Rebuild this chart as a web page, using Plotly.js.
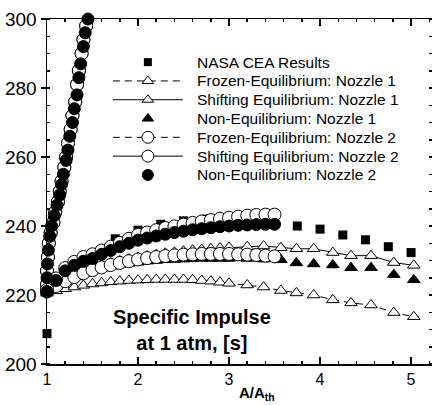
<!DOCTYPE html>
<html>
<head>
<meta charset="utf-8">
<script src="https://cdn.plot.ly/plotly-3.0.1.min.js"></script>
<style>html,body{margin:0;padding:0;background:#fff;}#chart{width:432px;height:405px;}</style>
</head>
<body>
<div id="chart"></div>
<script>
// ---------- data ----------
const seriesNames = [
  'NASA CEA Results',
  'Frozen-Equilibrium: Nozzle 1',
  'Shifting Equilibrium: Nozzle 1',
  'Non-Equilibrium: Nozzle 1',
  'Frozen-Equilibrium: Nozzle 2',
  'Shifting Equilibrium: Nozzle 2',
  'Non-Equilibrium: Nozzle 2'
];

const nasaX = [1.0, 1.25, 1.5, 1.75, 2.0, 2.25, 2.5, 2.75, 3.0, 3.25, 3.5, 3.75, 4.0, 4.25, 4.5, 4.75, 5.0];
const nasaY = [208.8, 227.5, 232.0, 236.3, 238.8, 240.5, 241.5, 242.0, 242.2, 242.0, 241.2, 240.0, 239.1, 237.4, 236.0, 234.0, 232.3];

const nozzle1X = [1.0,1.1,1.2,1.3,1.4,1.5,1.6,1.7,1.8,1.9,2.0,2.1,2.2,2.3,2.4,2.5,2.6,2.7,2.8,2.9,3.0,3.2,3.38,3.57,3.74,3.93,4.14,4.34,4.56,4.81,5.03];
const frozenN1Y = [220.5,221.2,221.8,222.3,222.8,223.2,223.5,223.8,224.0,224.2,224.3,224.4,224.5,224.5,224.5,224.5,224.4,224.2,224.0,223.7,223.4,222.9,222.3,221.3,220.6,220.0,218.6,217.7,217.1,214.9,213.7];
const shiftN1Y  = [221.0,222.6,224.2,225.6,226.8,227.8,228.6,229.3,229.9,230.4,230.9,231.3,231.7,232.1,232.4,232.7,233.0,233.2,233.4,233.6,233.8,234.0,234.2,233.7,233.4,233.4,232.3,231.4,231.4,229.4,228.6];
const nonEqN1Y  = [221.0,222.5,224.0,225.2,226.2,227.0,227.7,228.3,228.8,229.2,229.5,229.8,230.0,230.2,230.3,230.4,230.5,230.6,230.6,230.6,230.6,230.6,230.4,230.2,229.3,229.0,228.7,227.9,227.9,225.9,224.4];

// converging (steep) branch of nozzle 2
const n2SteepX = [1.45,1.42,1.40,1.37,1.35,1.33,1.30,1.28,1.25,1.23,1.21,1.18,1.16,1.14,1.11,1.08,1.05,1.03,1.015,1.005,1.0];
const n2SteepY = [300,296,292,287,283,278,274,270,266,262,259,255,252,249,246,243,240,237,233,229,225];
const n2OpenSteepX = [1.43,1.40,1.38,1.35,1.33,1.31,1.28,1.26,1.23,1.21,1.19,1.16,1.14,1.12,1.09,1.07,1.04,1.02,1.01,1.0,1.0];
const n2OpenSteepY = [298,294,290,285,281,276,272,268,264,260,257,253,250,247,244,241,238,235,231,227,223];

// diverging branch of nozzle 2
const n2RiseX = [1.0,1.1,1.2,1.3,1.4,1.5,1.6,1.7,1.8,1.9,2.0,2.1,2.2,2.3,2.4,2.5,2.6,2.7,2.8,2.9,3.0,3.1,3.2,3.3,3.4,3.5];
const frozenN2Y = [221.0,222.6,224.0,225.2,226.3,227.2,228.0,228.7,229.3,229.8,230.3,230.7,231.0,231.3,231.5,231.7,231.8,231.9,231.9,231.9,231.9,231.8,231.7,231.6,231.4,231.2];
const shiftN2Y  = [221.5,224.8,227.8,229.6,231.0,231.8,232.9,234.0,235.1,236.3,237.4,238.1,238.8,239.4,239.9,240.4,240.9,241.3,241.7,242.1,242.4,242.7,243.0,243.2,243.3,243.3];
const nonEqN2Y  = [221.0,224.2,227.0,228.6,229.8,230.6,231.8,232.9,234.0,235.0,235.9,236.5,237.1,237.6,238.1,238.5,238.9,239.2,239.5,239.8,240.0,240.2,240.3,240.4,240.5,240.5];

const xTickVals = [1, 2, 3, 4, 5];
const yTickVals = [200, 220, 240, 260, 280, 300];
const xTitle = '<b>A/A<sub>th</sub></b>';
const noteText = '<b>Specific Impulse<br>at 1 atm, [s]</b>';

// ---------- styles ----------
const openTri = {symbol:'triangle-up', size:11, color:'white', line:{color:'black', width:1}};
const fillTri = {symbol:'triangle-up', size:11, color:'black', line:{color:'black', width:1}};
const openCir = {symbol:'circle', size:13, color:'white', line:{color:'black', width:1}};
const fillCir = {symbol:'circle', size:12, color:'black', line:{color:'black', width:1}};
const square  = {symbol:'square', size:9, color:'black', line:{color:'black', width:0}};
const dashLine = {color:'black', width:1, dash:'7px,5px'};
const solidLine = {color:'black', width:1};

const styles = [
  {mode:'markers', marker:square},
  {mode:'lines+markers', marker:openTri, line:dashLine},
  {mode:'lines+markers', marker:openTri, line:solidLine},
  {mode:'markers', marker:fillTri},
  {mode:'lines+markers', marker:openCir, line:dashLine},
  {mode:'lines+markers', marker:openCir, line:solidLine},
  {mode:'markers', marker:fillCir}
];

const dataX = [
  nasaX, nozzle1X, nozzle1X, nozzle1X,
  n2OpenSteepX.concat(n2RiseX), n2OpenSteepX.concat(n2RiseX), n2SteepX.concat(n2RiseX)
];
const dataY = [
  nasaY, frozenN1Y, shiftN1Y, nonEqN1Y,
  n2OpenSteepY.concat(frozenN2Y), n2OpenSteepY.concat(shiftN2Y), n2SteepY.concat(nonEqN2Y)
];

const traces = [];
for (let i = 0; i < seriesNames.length; i++) {
  traces.push(Object.assign({
    type:'scatter', name:seriesNames[i], x:dataX[i], y:dataY[i],
    cliponaxis:false, showlegend:false, hoverinfo:'skip'
  }, styles[i]));
}

// custom legend (line sample + symbol) on a hidden helper axis pair
for (let i = 0; i < seriesNames.length; i++) {
  const st = styles[i];
  if (st.line) {
    traces.push({type:'scatter', mode:'lines', x:[0,1], y:[i,i], xaxis:'x2', yaxis:'y2',
      line:st.line, cliponaxis:false, showlegend:false, hoverinfo:'skip'});
  }
  const m = Object.assign({}, st.marker, {size: st.marker.size - 1});
  traces.push({type:'scatter', mode:'markers', x:[0.5], y:[i], xaxis:'x2', yaxis:'y2',
    marker:m, cliponaxis:false, showlegend:false, hoverinfo:'skip'});
}

const FONT = 'Liberation Sans, Arial, Helvetica, sans-serif';
const annotations = seriesNames.map((t, i) => ({
  text:t, xref:'paper', yref:'y2', x:0.384, y:i, xanchor:'left', yanchor:'middle',
  showarrow:false, font:{family:FONT, size:15.5, color:'black'}
}));
annotations.push({
  text:noteText, xref:'paper', yref:'paper',
  x:0.377, y:0.099, xanchor:'center', yanchor:'middle', showarrow:false,
  font:{family:FONT, size:20, color:'black'}
});
// x-axis title, placed tight under/next to the "3" tick label as in the reference
annotations.push({
  text:xTitle, xref:'paper', yref:'paper',
  x:0.497, y:-0.116, xanchor:'left', yanchor:'bottom', showarrow:false,
  borderpad:0, font:{family:FONT, size:15, color:'black'}
});

const layout = {
  width:432, height:405,
  margin:{l:47, r:0, t:19, b:41},
  paper_bgcolor:'white', plot_bgcolor:'rgba(0,0,0,0)',
  font:{family:FONT, color:'black'},
  showlegend:false,
  xaxis:{
    range:[1, 5.23], tickmode:'array', tickvals:xTickVals, ticks:'inside', ticklen:7, tickwidth:1.5,
    tickcolor:'black', mirror:'ticks', showline:true, linewidth:1.5, linecolor:'black',
    showgrid:false, zeroline:false, tickfont:{size:16, family:FONT, color:'black'},
    minor:{tick0:1, dtick:0.2, ticks:'inside', ticklen:3, tickcolor:'black', showgrid:false}
  },
  yaxis:{
    range:[200, 300], tickmode:'array', tickvals:yTickVals, ticks:'outside', ticklen:5, tickwidth:1.5,
    tickcolor:'black', mirror:'ticks', showline:true, linewidth:1.5, linecolor:'black',
    showgrid:false, zeroline:false, tickfont:{size:19, family:FONT, color:'black'},
    minor:{tick0:200, dtick:5, ticks:'inside', ticklen:3, tickcolor:'black', showgrid:false}
  },
  xaxis2:{domain:[0.171, 0.353], range:[0,1], anchor:'y2', visible:false, fixedrange:true},
  yaxis2:{domain:[0.548, 0.875], range:[6,0], anchor:'x2', visible:false, fixedrange:true},
  annotations:annotations
};

Plotly.newPlot('chart', traces, layout, {staticPlot:true, displayModeBar:false});
</script>
</body>
</html>
